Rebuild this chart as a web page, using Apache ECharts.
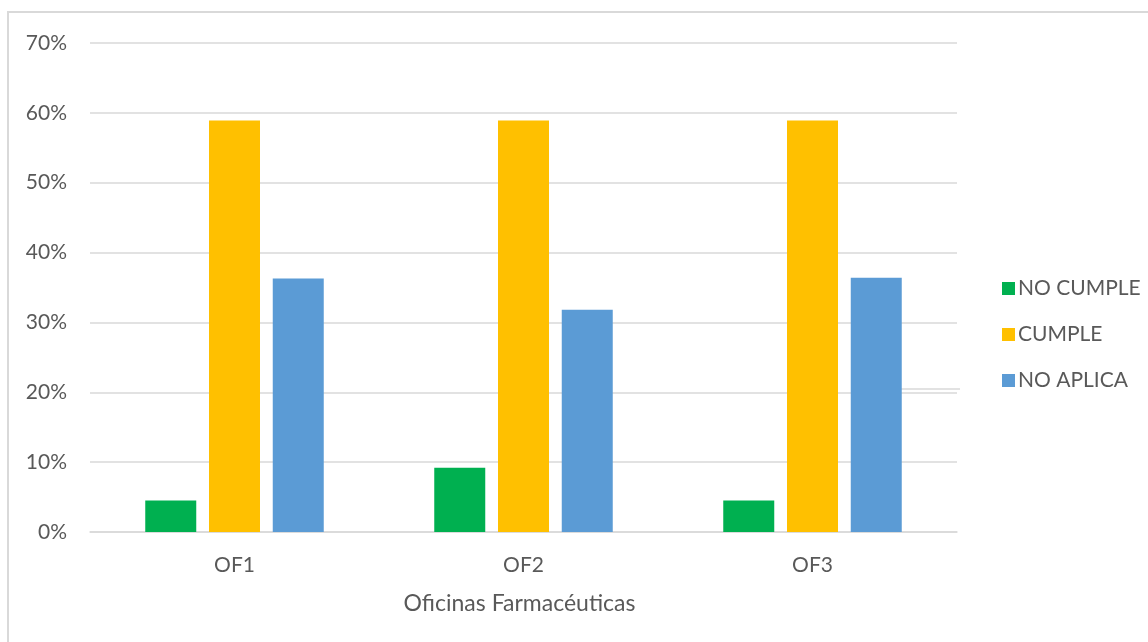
<!DOCTYPE html>
<html>
<head>
<meta charset="utf-8">
<script src="https://cdn.jsdelivr.net/npm/echarts@6/dist/echarts.min.js"></script>
<style>
  html, body { margin: 0; padding: 0; background: #ffffff; }
  #chart { width: 1148px; height: 642px; }
</style>
</head>
<body>
<div id="chart"></div>
<script>
// Oficinas farmacéuticas: share of checklist items per outcome
const categories = ['OF1', 'OF2', 'OF3'];
const noCumple = [4.5, 9.2, 4.5];
const cumple = [58.9, 58.9, 58.9];
const noAplica = [36.3, 31.8, 36.4];
const yTicks = [0, 10, 20, 30, 40, 50, 60, 70];

const FONT = 'Lato, "Noto Sans", sans-serif';
const TEXT = '#595959';
const GRID = '#d9d9d9';

const chart = echarts.init(document.getElementById('chart'), null, { renderer: 'canvas' });

function barSeries(name, data, color) {
  return {
    name: name,
    type: 'bar',
    data: data,
    barWidth: 51,
    barGap: '25%',
    itemStyle: { color: color },
    emphasis: { disabled: true }
  };
}

chart.setOption({
  animation: false,
  backgroundColor: '#ffffff',
  textStyle: { fontFamily: FONT },
  graphic: [
    {
      type: 'rect',
      shape: { x: 8, y: 12, width: 1200, height: 700 },
      style: { fill: 'none', stroke: GRID, lineWidth: 2 },
      silent: true
    },
    {
      type: 'line',
      shape: { x1: 900, y1: 389, x2: 960, y2: 389 },
      style: { stroke: GRID, lineWidth: 1.5 },
      silent: true
    }
  ],
  grid: { left: 90, right: 191, top: 43, bottom: 110, containLabel: false },
  legend: {
    orient: 'vertical',
    left: 997,
    top: 273,
    itemWidth: 13,
    itemHeight: 13,
    itemGap: 25,
    icon: 'rect',
    textStyle: { color: TEXT, fontSize: 21, lineHeight: 20, fontFamily: FONT, padding: [0, 0, 0, -2] },
    data: ['NO CUMPLE', 'CUMPLE', 'NO APLICA']
  },
  xAxis: {
    type: 'category',
    data: categories,
    name: 'Oficinas Farmacéuticas',
    nameLocation: 'middle',
    nameGap: 60,
    nameTextStyle: { color: TEXT, fontSize: 23, fontFamily: FONT, padding: [0, 8, 0, 0] },
    axisLine: { show: true, lineStyle: { color: GRID, width: 1.5 } },
    axisTick: { show: false },
    axisLabel: { color: TEXT, fontSize: 21, fontFamily: FONT, margin: 23 }
  },
  yAxis: {
    type: 'value',
    min: yTicks[0],
    max: yTicks[yTicks.length - 1],
    interval: 10,
    axisLine: { show: false },
    axisTick: { show: false },
    splitLine: { lineStyle: { color: GRID, width: 1.5 } },
    axisLabel: {
      color: TEXT,
      fontSize: 21,
      fontFamily: FONT,
      margin: 23,
      formatter: function (v) { return v + '%'; }
    }
  },
  series: [
    barSeries('NO CUMPLE', noCumple, '#00b050'),
    barSeries('CUMPLE', cumple, '#ffc000'),
    barSeries('NO APLICA', noAplica, '#5b9bd5')
  ]
});
</script>
</body>
</html>
